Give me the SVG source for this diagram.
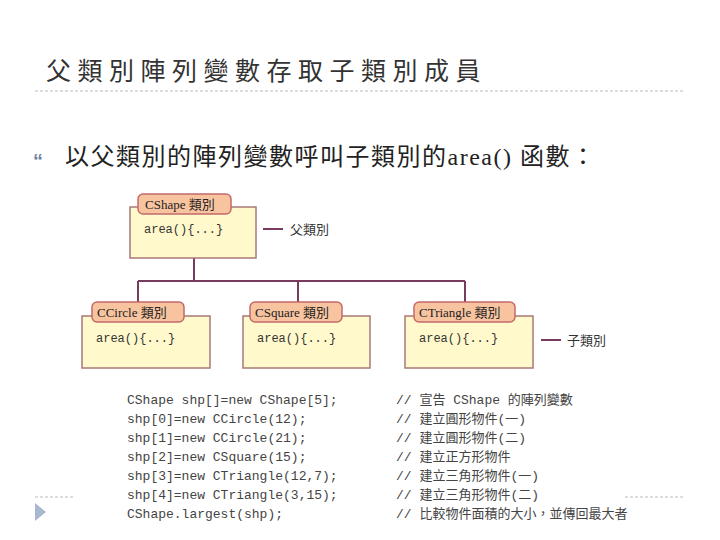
<svg xmlns="http://www.w3.org/2000/svg" width="720" height="540" viewBox="0 0 720 540">
<style>
.title{font-family:"Liberation Serif","Noto Sans CJK TC",serif;font-size:25px;fill:#333;letter-spacing:6.5px}
.sub{font-family:"Liberation Serif","Noto Sans CJK TC",serif;font-size:24px;fill:#222;letter-spacing:1.5px}
.body{fill:#FFF9CC;stroke:#A87878;stroke-width:1.5}
.tab{fill:#F8C4A0;stroke:#C46A6A;stroke-width:1.5}
.tabt{font-family:"Liberation Serif","Noto Sans CJK TC",serif;font-size:13px;fill:#222}
.mono{font-family:"Liberation Mono","Noto Sans CJK TC",monospace;font-size:12px;fill:#333}
.code{font-family:"Liberation Mono","Noto Sans CJK TC",monospace;font-size:13px;fill:#444}
.cm{font-family:"Liberation Mono","Noto Sans CJK TC",monospace;font-size:13px;fill:#444}
.lab{font-family:"Liberation Sans","Noto Sans CJK TC",sans-serif;font-size:13px;fill:#333}
.conn{stroke:#7A3A60;stroke-width:2;fill:none}
.dash{stroke:#BBBBBB;stroke-width:1;stroke-dasharray:3,2}
</style>
<rect width="720" height="540" fill="#fff"/>
<text class="title" x="46" y="80">父類別陣列變數存取子類別成員</text>
<line class="dash" x1="35" y1="91" x2="685" y2="91"/>
<text x="33" y="168" font-family="Liberation Sans,sans-serif" font-size="20" font-weight="bold" fill="#7080A0">“</text>
<text class="sub" x="65" y="165">以父類別的陣列變數呼叫子類別的area() 函數：</text>

<g id="connectors">
<path class="conn" d="M194,258 V281 M138,281 H465 M138,281 V302 M298,281 V302 M465,281 V302"/>
<line class="conn" x1="263" y1="229" x2="283" y2="229"/>
<line class="conn" x1="541" y1="340" x2="561" y2="340"/>
</g>

<g id="cshape">
<rect class="body" x="130" y="207" width="126" height="51"/>
<rect class="tab" x="138" y="194" width="93" height="20" rx="5"/>
<text class="tabt" x="145" y="209">CShape 類別</text>
<text class="mono" x="144" y="233">area(){...}</text>
</g>
<g id="ccircle">
<rect class="body" x="82" y="316" width="128" height="52"/>
<rect class="tab" x="92" y="302" width="92" height="20" rx="5"/>
<text class="tabt" x="97" y="317">CCircle 類別</text>
<text class="mono" x="96" y="342">area(){...}</text>
</g>
<g id="csquare">
<rect class="body" x="243" y="316" width="127" height="52"/>
<rect class="tab" x="250" y="302" width="92" height="20" rx="5"/>
<text class="tabt" x="255" y="317">CSquare 類別</text>
<text class="mono" x="257" y="342">area(){...}</text>
</g>
<g id="ctriangle">
<rect class="body" x="405" y="316" width="128" height="52"/>
<rect class="tab" x="414" y="302" width="101" height="20" rx="5"/>
<text class="tabt" x="419" y="317">CTriangle 類別</text>
<text class="mono" x="419" y="342">area(){...}</text>
</g>
<g id="labels">
<text class="lab" x="290" y="234">父類別</text>
<text class="lab" x="567" y="345">子類別</text>
</g>

<g id="code">
<text class="code" x="127" y="404">CShape shp[]=new CShape[5];</text>
<text class="code" x="127" y="423">shp[0]=new CCircle(12);</text>
<text class="code" x="127" y="442">shp[1]=new CCircle(21);</text>
<text class="code" x="127" y="461">shp[2]=new CSquare(15);</text>
<text class="code" x="127" y="480">shp[3]=new CTriangle(12,7);</text>
<text class="code" x="127" y="499">shp[4]=new CTriangle(3,15);</text>
<text class="code" x="127" y="518">CShape.largest(shp);</text>
<text class="cm" x="396" y="404">// 宣告 CShape 的陣列變數</text>
<text class="cm" x="396" y="423">// 建立圓形物件(一)</text>
<text class="cm" x="396" y="442">// 建立圓形物件(二)</text>
<text class="cm" x="396" y="461">// 建立正方形物件</text>
<text class="cm" x="396" y="480">// 建立三角形物件(一)</text>
<text class="cm" x="396" y="499">// 建立三角形物件(二)</text>
<text class="cm" x="396" y="518">// 比較物件面積的大小，並傳回最大者</text>
</g>

<line class="dash" x1="35" y1="497" x2="75" y2="497"/>
<line class="dash" x1="625" y1="497" x2="685" y2="497"/>
<polygon points="35,503 46,512 35,521" fill="#A8B8D0"/>
</svg>
